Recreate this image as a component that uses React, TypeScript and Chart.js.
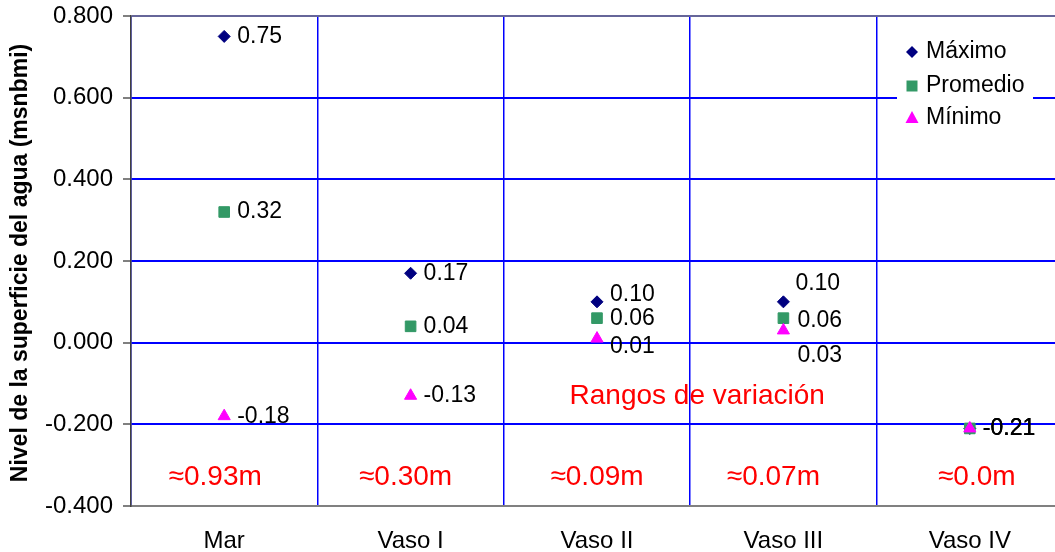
import React, { useEffect, useRef } from "react";
import { Chart, registerables } from "chart.js";

Chart.register(...registerables);

const categories = ["Mar", "Vaso I", "Vaso II", "Vaso III", "Vaso IV"];
const maximo = [0.75, 0.17, 0.1, 0.1, -0.21];
const promedio = [0.32, 0.04, 0.06, 0.06, -0.21];
const minimo = [-0.18, -0.13, 0.01, 0.03, -0.21];
const rangos = ["≈0.93m", "≈0.30m", "≈0.09m", "≈0.07m", "≈0.0m"];
const yTicks = [0.8, 0.6, 0.4, 0.2, 0.0, -0.2, -0.4];

// label placement offsets (pixels) per series / category
const maxOff = [[13, 0], [13, 0], [13, -7], [12, -18], [13, 0]];
const promOff = [[13, 0], [13, 0], [13, 0], [14, 2], [13, 0]];
const minOff = [[13, 0], [13, 0], [13, 8], [14, 25], [13, 0]];
const rangoOff = [-9, -5, 0, -10, 7];

const FONT = "'Liberation Sans', Arial, sans-serif";
const NAVY = "#000080";
const GREEN = "#339966";
const MAGENTA = "#FF00FF";

const overlay = {
  id: "overlay",
  afterDatasetsDraw(chart: any) {
    const ctx = chart.ctx;
    const xs = chart.scales.x;
    const ys = chart.scales.y;
    const area = chart.chartArea;
    ctx.save();
    ctx.font = `23px ${FONT}`;
    ctx.fillStyle = "#000";
    ctx.textAlign = "left";
    ctx.textBaseline = "middle";
    const series: [number[], number[][]][] = [
      [maximo, maxOff],
      [promedio, promOff],
      [minimo, minOff],
    ];
    series.forEach(([vals, offs]) => {
      vals.forEach((v, i) => {
        const x = xs.getPixelForValue(i) + offs[i][0];
        const y = ys.getPixelForValue(v) + offs[i][1];
        ctx.fillText(v.toFixed(2), x, y);
      });
    });
    ctx.fillStyle = "#FF0000";
    ctx.font = `28px ${FONT}`;
    ctx.textAlign = "center";
    rangos.forEach((t, i) => {
      ctx.fillText(t, xs.getPixelForValue(i) + rangoOff[i], ys.getPixelForValue(-0.33));
    });
    const midX = (xs.getPixelForValue(2) + xs.getPixelForValue(3)) / 2 + 7;
    ctx.fillText("Rangos de variación", midX, ys.getPixelForValue(-0.132));
    ctx.fillStyle = "#000";
    ctx.font = `bold 23px ${FONT}`;
    ctx.translate(21, (area.top + area.bottom) / 2 + 2);
    ctx.rotate(-Math.PI / 2);
    ctx.textAlign = "center";
    ctx.fillText("Nivel de la superficie del agua (msnbmi)", 0, 0);
    ctx.restore();
  },
};

const legendDraw = {
  id: "legendDraw",
  afterDraw(chart: any) {
    const ctx = chart.ctx;
    ctx.save();
    ctx.fillStyle = "#fff";
    ctx.fillRect(897, 36, 136, 100);
    const items = [
      { label: "Máximo", y: 52 },
      { label: "Promedio", y: 86 },
      { label: "Mínimo", y: 118 },
    ];
    ctx.fillStyle = "#000";
    ctx.font = `23px ${FONT}`;
    ctx.textAlign = "left";
    ctx.textBaseline = "middle";
    items.forEach((it) => ctx.fillText(it.label, 926, it.y));
    const drawMarker = (style: string, x: number, y: number, color: string) => {
      ctx.fillStyle = color;
      ctx.beginPath();
      if (style === "diamond") {
        ctx.moveTo(x - 6, y);
        ctx.lineTo(x, y - 6);
        ctx.lineTo(x + 6, y);
        ctx.lineTo(x, y + 6);
      } else if (style === "square") {
        ctx.rect(x - 5.5, y - 5.5, 11, 11);
      } else {
        ctx.moveTo(x, y - 7);
        ctx.lineTo(x + 6.5, y + 5);
        ctx.lineTo(x - 6.5, y + 5);
      }
      ctx.closePath();
      ctx.fill();
    };
    drawMarker("diamond", 912, 52, NAVY);
    drawMarker("square", 912, 86, GREEN);
    drawMarker("triangle", 912, 118, MAGENTA);
    ctx.restore();
  },
};

export default function App() {
  const ref = useRef<HTMLCanvasElement>(null);
  useEffect(() => {
    const canvas = ref.current!;
    const mk = (label: string, data: number[], style: string, color: string, r: number, order: number) => ({
      label,
      data,
      order,
      pointStyle: style,
      pointRadius: r,
      pointHoverRadius: r,
      backgroundColor: color,
      borderColor: color,
      borderWidth: 1,
      showLine: false,
    });
    const chart = new Chart(canvas, {
      type: "line",
      data: {
        labels: categories,
        datasets: [
          mk("Máximo", maximo, "rectRot", NAVY, 6, 2),
          mk("Promedio", promedio, "rect", GREEN, 7.5, 1),
          mk("Mínimo", minimo, "triangle", MAGENTA, 7, 0),
        ] as any,
      },
      options: {
        responsive: false,
        animation: false,
        events: [],
        layout: { padding: { left: 0, top: 16, right: 12, bottom: 0 } },
        plugins: {
          legend: { display: false },
          tooltip: { enabled: false },
        },
        scales: {
          x: {
            type: "category",
            offset: true,
            grid: {
              offset: true,
              color: "#0000FF",
              lineWidth: 1.5,
              drawTicks: false,
            },
            border: { display: true, color: "#808080", width: 2 },
            ticks: {
              color: "#000",
              font: { family: FONT, size: 24 },
              padding: 21,
              maxRotation: 0,
            },
            afterFit(scale: any) {
              scale.height = 46;
              scale.paddingLeft = 0;
              scale.paddingRight = 0;
            },
          },
          y: {
            type: "linear",
            min: -0.4,
            max: 0.8,
            afterBuildTicks(scale: any) {
              scale.ticks = yTicks.map((v) => ({ value: v }));
            },
            grid: {
              color: (c: any) =>
                c.tick && (Math.abs(c.tick.value - 0.8) < 1e-6 || Math.abs(c.tick.value + 0.4) < 1e-6)
                  ? "#666699"
                  : "#0000FF",
              lineWidth: 2,
              tickColor: "#808080",
              tickLength: 8,
              drawTicks: true,
            },
            border: { display: true, color: "#404040", width: 1.5 },
            ticks: {
              color: "#000",
              font: { family: FONT, size: 24 },
              padding: 10,
              callback: (v: any) => Number(v).toFixed(3),
            },
            afterFit(scale: any) {
              scale.width = 131;
              scale.paddingTop = 0;
              scale.paddingBottom = 0;
            },
          },
        },
      },
      plugins: [overlay, legendDraw],
    });
    return () => chart.destroy();
  }, []);
  return (
    <div style={{ position: "fixed", left: 0, top: 0, width: 1055, height: 552, overflow: "hidden", background: "#fff" }}>
      <canvas ref={ref} width={1075} height={552} style={{ width: 1075, height: 552, display: "block" }} />
    </div>
  );
}
